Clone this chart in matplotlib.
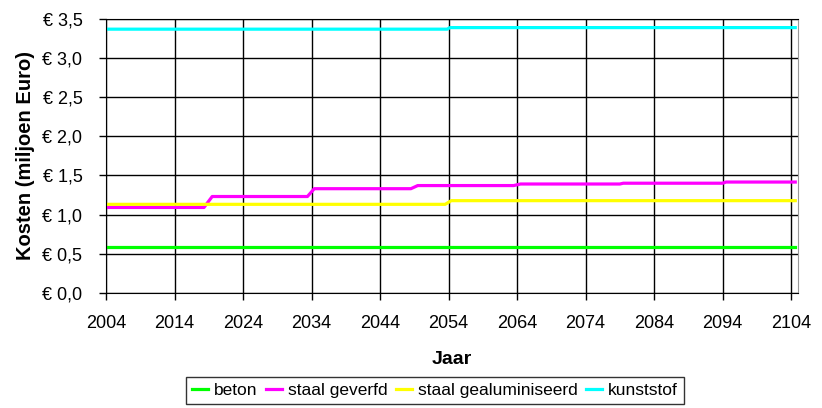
import matplotlib
matplotlib.use('Agg')
import matplotlib.pyplot as plt
from matplotlib.ticker import FuncFormatter

plt.rcParams['font.family'] = ['Liberation Sans', 'DejaVu Sans']

# breakpoints (jaar, kosten in miljoen euro)
beton_jaar = [2004, 2104.6]
beton = [0.59, 0.59]

geverfd_jaar = [2004, 2018.3, 2019.5, 2033.4, 2034.4, 2048.5, 2049.5,
                2063.5, 2064.5, 2079.0, 2079.5, 2094.0, 2094.5, 2104.6]
geverfd = [1.09, 1.09, 1.23, 1.23, 1.33, 1.33, 1.37,
           1.37, 1.39, 1.39, 1.40, 1.40, 1.415, 1.415]

gealum_jaar = [2004, 2053.5, 2054.4, 2104.6]
gealum = [1.13, 1.13, 1.177, 1.177]

kunststof_jaar = [2004, 2053.8, 2054.2, 2104.6]
kunststof = [3.37, 3.37, 3.39, 3.39]

x_ticks = list(range(2004, 2105, 10))
y_ticks = [0.0, 0.5, 1.0, 1.5, 2.0, 2.5, 3.0, 3.5]

fig = plt.figure(figsize=(8.22, 4.08), dpi=100)
ax = fig.add_axes([106 / 822, 1 - 292.7 / 408, (798 - 106) / 822, (292.7 - 19) / 408])

ax.plot(beton_jaar, beton, color='#00ff00', lw=2.3, label='beton')
ax.plot(geverfd_jaar, geverfd, color='#ff00ff', lw=2.3, label='staal geverfd')
ax.plot(gealum_jaar, gealum, color='#ffff00', lw=2.3, label='staal gealuminiseerd')
ax.plot(kunststof_jaar, kunststof, color='#00ffff', lw=2.3, label='kunststof')

ax.set_xlim(2004, 2105)
ax.set_ylim(0, 3.5)
ax.set_xticks(x_ticks)
ax.set_yticks(y_ticks)
ax.yaxis.set_major_formatter(FuncFormatter(lambda v, p: '€ ' + f'{v:.1f}'.replace('.', ',')))
ax.grid(True, color='black', lw=1)
ax.set_axisbelow(True)
ax.tick_params(axis='y', labelsize=13, length=5, width=1, color='black', direction='out', pad=12)
ax.tick_params(axis='x', labelsize=13, length=5, width=1, color='black', direction='out', pad=11)

ax.spines['right'].set_color('#999999')
for s in ['left', 'bottom', 'top']:
    ax.spines[s].set_color('black')

ax.set_xlabel('Jaar', fontsize=14, fontweight='bold', labelpad=14)
ax.set_ylabel('Kosten (miljoen Euro)', fontsize=14.5, fontweight='bold', labelpad=5)

leg = fig.legend(loc='upper center', bbox_to_anchor=(435 / 822, 1 - 377 / 408), ncol=4,
                 fontsize=12.5, frameon=True, fancybox=False, handlelength=0.9,
                 handletextpad=0.35, columnspacing=0.5, borderpad=0.35, borderaxespad=0)
leg.get_frame().set_edgecolor('black')
leg.get_frame().set_linewidth(1)

fig.savefig('out.png', dpi=100)
